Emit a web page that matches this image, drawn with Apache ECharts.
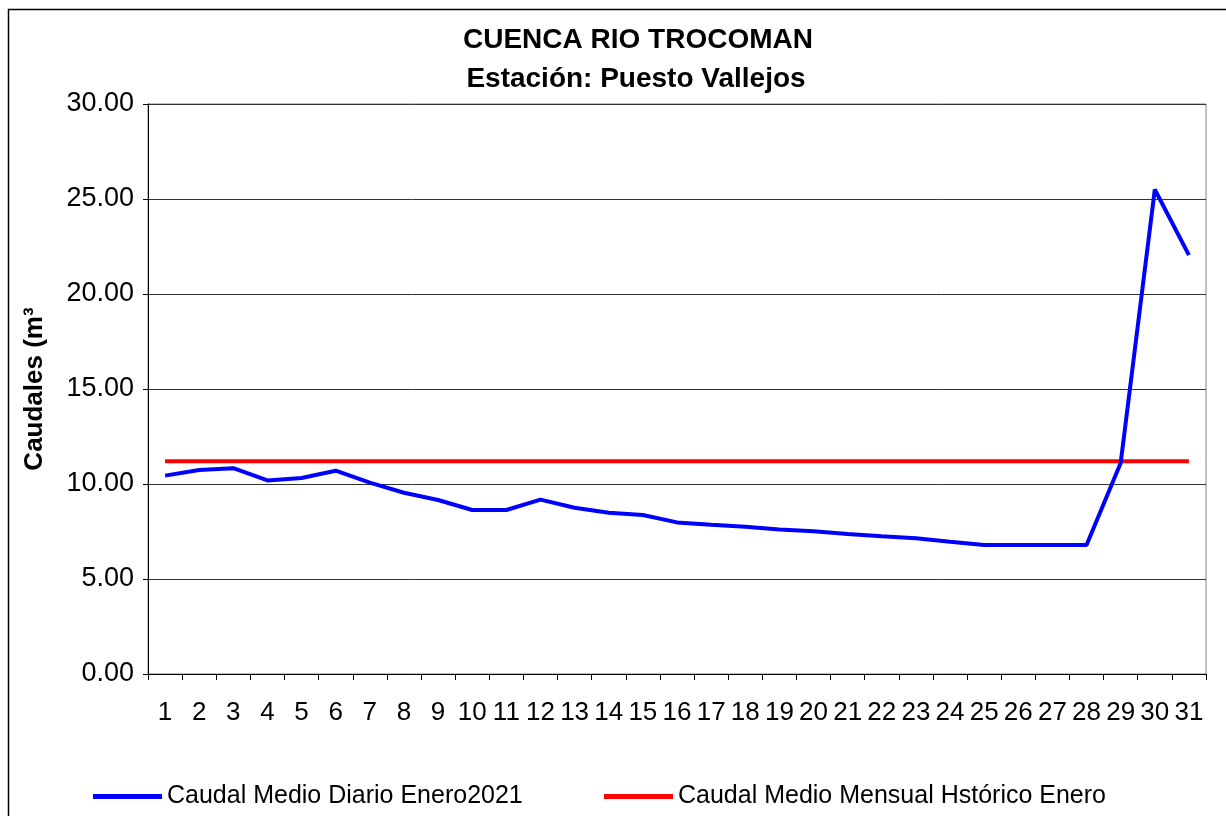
<!DOCTYPE html>
<html>
<head>
<meta charset="utf-8">
<script src="https://cdn.jsdelivr.net/npm/echarts@6/dist/echarts.min.js"></script>
<style>
  html, body { margin: 0; padding: 0; background: #fff; }
  #chart { width: 1226px; height: 816px; }
</style>
</head>
<body>
<div id="chart"></div>
<script>
// dias del mes (enero 2021)
var dias = ['1','2','3','4','5','6','7','8','9','10','11','12','13','14','15','16',
  '17','18','19','20','21','22','23','24','25','26','27','28','29','30','31'];

// caudal medio diario enero 2021 (m3/s)
var caudalDiario = [10.44, 10.74, 10.83, 10.19, 10.32, 10.70, 10.07, 9.54, 9.16, 8.63,
  8.63, 9.18, 8.75, 8.49, 8.37, 7.98, 7.86, 7.75, 7.61, 7.51, 7.37, 7.25, 7.14, 6.96,
  6.79, 6.79, 6.79, 6.79, 11.1, 25.5, 22.05];

// caudal medio mensual historico enero
var caudalHistorico = 11.2;

var serieDiaria = 'Caudal Medio Diario Enero2021';
var serieHistorica = 'Caudal Medio Mensual Hstórico Enero';

var fuente = 'Liberation Sans, Arial, sans-serif';

var dom = document.getElementById('chart');
var myChart = echarts.init(dom, null, { renderer: 'canvas' });
var option;

option = {
  animation: false,
  backgroundColor: '#fff',
  graphic: [
    {
      type: 'rect',
      shape: { x: 8.5, y: 9.5, width: 1240, height: 840 },
      style: { fill: 'none', stroke: '#000', lineWidth: 1.5 },
      silent: true
    },
    {
      type: 'text',
      x: 638, y: 40,
      style: {
        text: 'CUENCA RIO TROCOMAN',
        font: 'bold 28px ' + fuente,
        fill: '#000',
        textAlign: 'center',
        textVerticalAlign: 'middle'
      }
    },
    {
      type: 'text',
      x: 636, y: 79,
      style: {
        text: 'Estación: Puesto Vallejos',
        font: 'bold 28px ' + fuente,
        fill: '#000',
        textAlign: 'center',
        textVerticalAlign: 'middle'
      }
    }
  ],
  legend: [
    {
      left: 93,
      top: 784,
      padding: 0,
      icon: 'rect',
      itemWidth: 69,
      itemHeight: 5,
      textStyle: { fontSize: 25, fontFamily: fuente, color: '#000' },
      data: [serieDiaria]
    },
    {
      left: 604,
      top: 784,
      padding: 0,
      icon: 'rect',
      itemWidth: 69,
      itemHeight: 5,
      textStyle: { fontSize: 25, fontFamily: fuente, color: '#000' },
      data: [serieHistorica]
    }
  ],
  grid: {
    left: 148,
    right: 20,
    top: 104,
    bottom: 142,
    show: true,
    borderColor: '#808080',
    borderWidth: 1
  },
  xAxis: {
    type: 'category',
    data: dias,
    boundaryGap: true,
    axisLine: { lineStyle: { color: '#000', width: 1 } },
    axisTick: { show: true, length: 6, inside: false, lineStyle: { color: '#000' } },
    axisLabel: {
      interval: 0,
      margin: 26,
      fontSize: 26,
      fontFamily: fuente,
      color: '#000'
    },
    splitLine: { show: false }
  },
  yAxis: {
    type: 'value',
    min: 0,
    max: 30,
    interval: 5,
    name: 'Caudales (m³',
    nameLocation: 'middle',
    nameRotate: 90,
    nameGap: 100,
    nameTextStyle: { fontSize: 26, fontWeight: 'bold', fontFamily: fuente, color: '#000' },
    axisLine: { show: true, lineStyle: { color: '#000', width: 1 } },
    axisTick: { show: true, length: 5, lineStyle: { color: '#000' } },
    axisLabel: {
      margin: 14,
      fontSize: 27,
      fontFamily: fuente,
      color: '#000',
      formatter: function (v) { return v.toFixed(2); }
    },
    splitLine: { show: true, lineStyle: { color: '#333', width: 1 } }
  },
  series: [
    {
      name: serieDiaria,
      type: 'line',
      data: caudalDiario,
      symbol: 'none',
      color: '#0000ff',
      lineStyle: { color: '#0000ff', width: 4 },
      z: 3
    },
    {
      name: serieHistorica,
      type: 'line',
      data: dias.map(function () { return caudalHistorico; }),
      symbol: 'none',
      color: '#ff0000',
      lineStyle: { color: '#ff0000', width: 4 },
      z: 2
    }
  ]
};

if (option && typeof option === 'object') {
  myChart.setOption(option);
}

window.addEventListener('resize', myChart.resize);
</script>
</body>
</html>
